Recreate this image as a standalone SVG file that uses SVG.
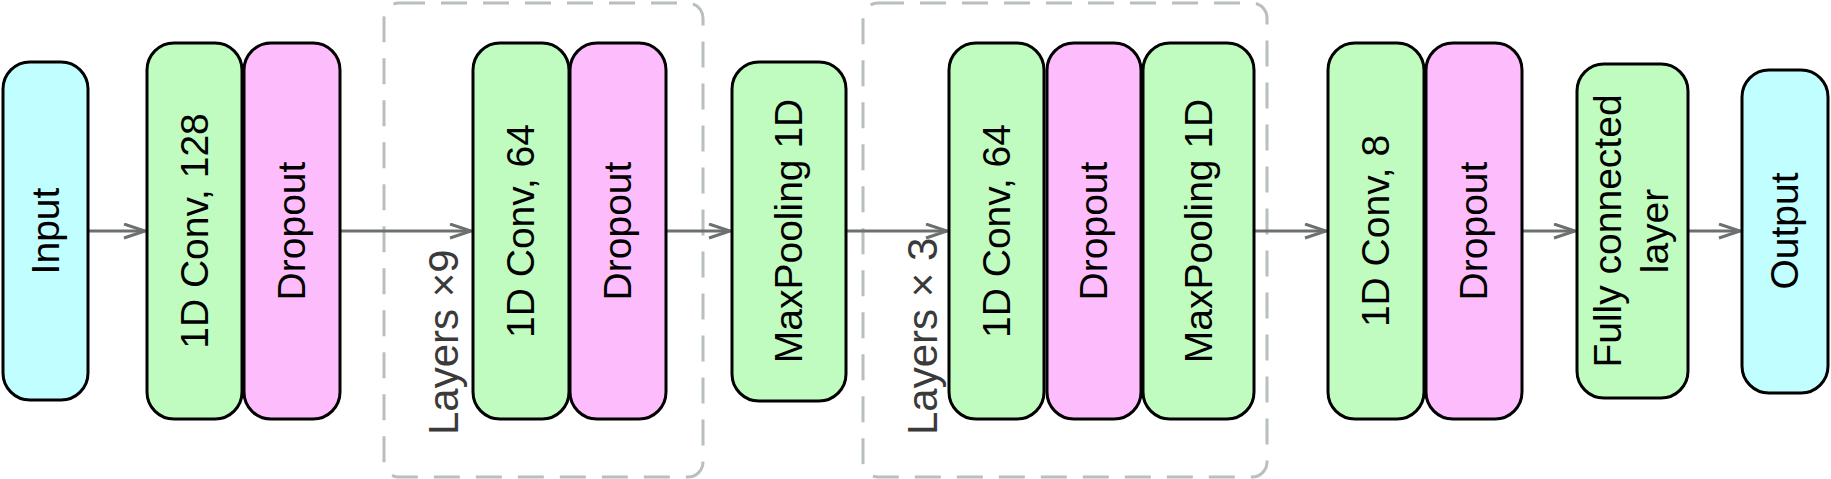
<svg xmlns="http://www.w3.org/2000/svg" width="1831" height="479" viewBox="0 0 1831 479">
<style>
.n{stroke:#000;stroke-width:3}
.g{fill:#c0fcc0}
.p{fill:#fdbdfc}
.c{fill:#c0feff}
.t{font-family:"Liberation Sans",Arial,sans-serif;font-size:39px;fill:#000;text-anchor:middle}
.l{font-family:"Liberation Sans",Arial,sans-serif;font-size:42px;fill:#3a3a3a}
.d{fill:none;stroke:#b9bebe;stroke-width:3;stroke-dasharray:26 16}
.a{fill:none;stroke:#6d7070;stroke-width:3}
</style>
<defs>
<marker id="ah" markerUnits="userSpaceOnUse" markerWidth="26" markerHeight="20" refX="22" refY="8" orient="auto" viewBox="0 0 26 20">
<path d="M1,1 L22,8 L1,15" fill="none" stroke="#6d7070" stroke-width="3"/>
</marker>
</defs>
<g id="groups">
<rect id="box1" class="d" x="384" y="3" width="319" height="474" rx="15"/>
<rect id="box2" class="d" x="863" y="3" width="404" height="474" rx="15"/>
<text class="l" transform="translate(458,435) rotate(-90)">Layers ×9</text>
<text class="l" transform="translate(937,435) rotate(-90)">Layers × 3</text>
</g>
<g id="connectors">
<line class="a" x1="88" y1="231" x2="145" y2="231" marker-end="url(#ah)"/>
<line class="a" x1="340" y1="231" x2="471" y2="231" marker-end="url(#ah)"/>
<line class="a" x1="666" y1="231" x2="730" y2="231" marker-end="url(#ah)"/>
<line class="a" x1="846" y1="231" x2="947" y2="231" marker-end="url(#ah)"/>
<line class="a" x1="1254" y1="231" x2="1326" y2="231" marker-end="url(#ah)"/>
<line class="a" x1="1522" y1="231" x2="1575" y2="231" marker-end="url(#ah)"/>
<line class="a" x1="1688" y1="231" x2="1740" y2="231" marker-end="url(#ah)"/>
</g>
<g id="input">
<rect class="n c" x="3" y="62" width="85" height="338" rx="27"/>
<text class="t" transform="translate(45.5,231) rotate(-90)" y="13">Input</text>
</g>
<g id="conv128">
<rect class="n g" x="147" y="43" width="95" height="376" rx="27"/>
<text class="t" transform="translate(194.5,231) rotate(-90)" y="13">1D Conv, 128</text>
</g>
<g id="dropout1">
<rect class="n p" x="244" y="43" width="96" height="376" rx="27"/>
<text class="t" transform="translate(292,231) rotate(-90)" y="13">Dropout</text>
</g>
<g id="conv64a">
<rect class="n g" x="473" y="43" width="96" height="376" rx="27"/>
<text class="t" transform="translate(521,231) rotate(-90)" y="13">1D Conv, 64</text>
</g>
<g id="dropout2">
<rect class="n p" x="570" y="43" width="96" height="376" rx="27"/>
<text class="t" transform="translate(618,231) rotate(-90)" y="13">Dropout</text>
</g>
<g id="maxpool1">
<rect class="n g" x="732" y="62" width="114" height="339" rx="27"/>
<text class="t" transform="translate(789,231) rotate(-90)" y="13">MaxPooling 1D</text>
</g>
<g id="conv64b">
<rect class="n g" x="949" y="43" width="95" height="376" rx="27"/>
<text class="t" transform="translate(996.5,231) rotate(-90)" y="13">1D Conv, 64</text>
</g>
<g id="dropout3">
<rect class="n p" x="1047" y="43" width="94" height="376" rx="27"/>
<text class="t" transform="translate(1094,231) rotate(-90)" y="13">Dropout</text>
</g>
<g id="maxpool2">
<rect class="n g" x="1143" y="43" width="111" height="376" rx="27"/>
<text class="t" transform="translate(1198.5,231) rotate(-90)" y="13">MaxPooling 1D</text>
</g>
<g id="conv8">
<rect class="n g" x="1328" y="43" width="96" height="376" rx="27"/>
<text class="t" transform="translate(1376,231) rotate(-90)" y="13">1D Conv, 8</text>
</g>
<g id="dropout4">
<rect class="n p" x="1426" y="43" width="96" height="376" rx="27"/>
<text class="t" transform="translate(1474,231) rotate(-90)" y="13">Dropout</text>
</g>
<g id="fc">
<rect class="n g" x="1577" y="64" width="111" height="334" rx="27"/>
<text class="t" transform="translate(1632.5,231) rotate(-90)"><tspan x="0" y="-12">Fully connected</tspan><tspan x="0" y="35">layer</tspan></text>
</g>
<g id="output">
<rect class="n c" x="1742" y="70" width="86" height="323" rx="27"/>
<text class="t" transform="translate(1785,231) rotate(-90)" y="13">Output</text>
</g>
</svg>
